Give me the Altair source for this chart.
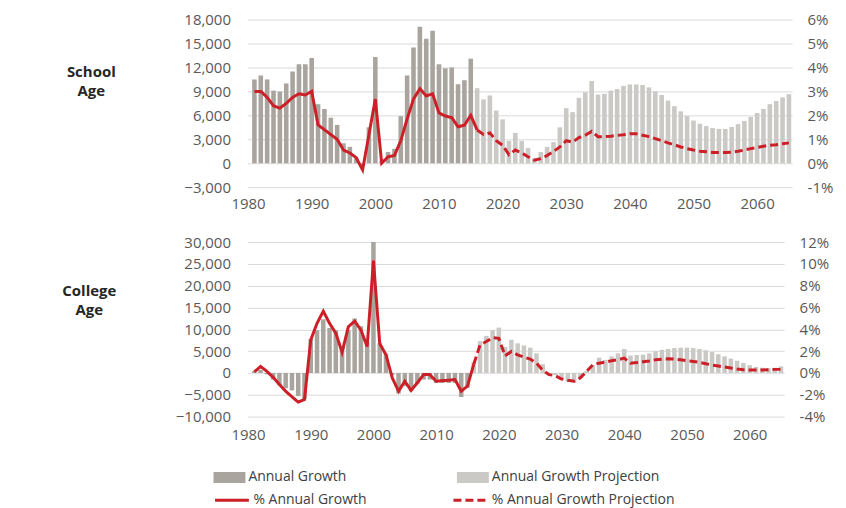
import altair as alt
import pandas as pd

YEARS = list(range(1981, 2066))
LAST_ACTUAL = 2015

SCHOOL_GROWTH = [
    10500, 11000, 10500, 9100, 9000, 10000, 11500, 12400, 12400, 13200,
    7400, 6800, 5700, 4800, 2500, 2050, 600, -200, 4500, 13300,
    300, 1400, 1800, 5900, 11000, 14500, 17100, 15600, 16600, 12400,
    11900, 12000, 9900, 10400, 13100, 9400, 8000, 8500, 6600, 5500,
    2800, 3800, 2800, 1900, 600, 1400, 2050, 2650, 4500, 6900,
    6400, 8200, 8900, 10300, 8600, 8700, 9100, 9300, 9700, 9870,
    9870, 9800, 9500, 9000, 8550, 7850, 7150, 6500, 5900, 5350,
    4950, 4650, 4400, 4300, 4300, 4550, 4900, 5300, 5800, 6300,
    6800, 7400, 7800, 8250, 8650]

SCHOOL_PCT = [
    3.0, 3.0, 2.75, 2.4, 2.3, 2.5, 2.75, 2.9, 2.85, 3.0,
    1.6, 1.4, 1.2, 1.0, 0.55, 0.43, 0.23, -0.28, 1.2, 2.68,
    0.0, 0.27, 0.32, 0.94, 1.85, 2.68, 3.11, 2.81, 2.9, 2.1,
    1.97, 1.91, 1.52, 1.59, 2.0, 1.39, 1.2, 1.27, 0.94, 0.75,
    0.36, 0.55, 0.43, 0.27, 0.13, 0.19, 0.32, 0.49, 0.68, 0.94,
    0.88, 1.07, 1.17, 1.33, 1.11, 1.11, 1.13, 1.16, 1.19, 1.23,
    1.23, 1.17, 1.11, 1.03, 0.94, 0.85, 0.77, 0.68, 0.61, 0.55,
    0.5, 0.48, 0.45, 0.45, 0.45, 0.46, 0.5, 0.55, 0.61, 0.66,
    0.71, 0.75, 0.77, 0.81, 0.85]

COLLEGE_GROWTH = [
    400, 700, -300, -1500, -2800, -3500, -4000, -5300, -6000, 7800,
    9800, 12300, 10300, 9800, 6000, 9800, 12500, 10700, 7000, 30000,
    6800, 4300, -500, -4700, -3000, -4200, -2500, -1500, -1500, -2300,
    -2300, -2300, -2300, -5500, -3400, 2500, 7300, 8500, 9800, 10400,
    6000, 7600, 6800, 6300, 5800, 4500, 2000, 0, -500, -1500,
    -2000, -2200, -1000, 500, 1800, 3500, 3000, 3800, 4500, 5500,
    4000, 4100, 4200, 4500, 5000, 5300, 5500, 5700, 5800, 5800,
    5700, 5500, 5200, 4800, 4300, 3800, 3300, 2800, 2300, 1800,
    1400, 1200, 1100, 1200, 1500]

COLLEGE_PCT = [
    0.1, 0.6, 0.15, -0.4, -1.06, -1.67, -2.18, -2.67, -2.43, 3.03,
    4.55, 5.66, 4.55, 3.64, 1.9, 4.24, 4.75, 3.94, 2.42, 10.3,
    2.7, 1.66, -0.45, -1.67, -0.76, -1.6, -0.9, -0.15, -0.15, -0.76,
    -0.7, -0.67, -0.6, -1.67, -1.2, 0.8, 2.57, 2.88, 3.24, 3.18,
    1.57, 1.97, 1.66, 1.45, 1.27, 0.9, 0.24, -0.15, -0.24, -0.55,
    -0.67, -0.76, -0.45, 0.15, 0.76, 0.9, 1.0, 1.12, 1.21, 1.36,
    0.9, 0.95, 1.03, 1.1, 1.21, 1.27, 1.3, 1.27, 1.21, 1.12,
    1.06, 0.97, 0.85, 0.73, 0.64, 0.55, 0.45, 0.36, 0.3, 0.27,
    0.27, 0.27, 0.3, 0.33, 0.33]

X_TICKS = list(range(1980, 2061, 10))
SCHOOL_TICKS = list(range(-3000, 18001, 3000))
SCHOOL_PCT_TICKS = list(range(-1, 7))
COLLEGE_TICKS = list(range(-10000, 30001, 5000))
COLLEGE_PCT_TICKS = list(range(-4, 13, 2))

BAR_LABELS = ["Annual Growth", "Annual Growth Projection"]
LINE_LABELS = ["% Annual Growth", "% Annual Growth Projection"]

DARK = "#a9a59e"
LIGHT = "#cbc9c6"
RED = "#cc1f27"
FONT = "Open Sans"


def frames(growth, pct):
    bars = pd.DataFrame({"year": YEARS, "growth": growth})
    bars["kind"] = [BAR_LABELS[0] if y <= LAST_ACTUAL else BAR_LABELS[1] for y in YEARS]
    rows = []
    for y, p in zip(YEARS, pct):
        if y <= LAST_ACTUAL + 1:
            rows.append({"year": y, "pct": p, "kind": LINE_LABELS[0]})
        if y >= LAST_ACTUAL + 1:
            rows.append({"year": y, "pct": p, "kind": LINE_LABELS[1]})
    return bars, pd.DataFrame(rows)


bar_legend = alt.Legend(
    title=None, orient="none", legendX=-34, legendY=443, direction="horizontal",
    symbolType="M-1,-0.34H1V0.34H-1Z", symbolSize=1024, symbolStrokeWidth=0,
    columnPadding=110, labelFontSize=14, labelColor="#404040", labelOffset=3,
    labelLimit=400,
)
line_legend = alt.Legend(
    title=None, orient="none", legendX=-34, legendY=463, direction="horizontal",
    symbolType="stroke", symbolSize=1150, symbolStrokeWidth=3, symbolStrokeColor=RED,
    columnPadding=80, labelFontSize=14, labelColor="#404040", labelOffset=3,
    labelLimit=400,
)


def x_axis(pad):
    return alt.Axis(values=X_TICKS, format="d", grid=False, domain=False,
                    ticks=False, labelPadding=pad, labelFlush=False, title=None)


def panel(growth, pct, title, gdom, gticks, pdom, pticks, width, height, title_x, title_y,
          xpad):
    bdf, ldf = frames(growth, pct)
    xscale = alt.Scale(domain=[1979.9, 2065.5], nice=False, zero=False)
    bars = alt.Chart(bdf).transform_calculate(
        x0="datum.year - 0.36", x1="datum.year + 0.36"
    ).mark_bar().encode(
        x=alt.X("x0:Q", scale=xscale, axis=x_axis(xpad)),
        x2="x1:Q",
        y=alt.Y("growth:Q", scale=alt.Scale(domain=gdom, nice=False, zero=False),
                axis=alt.Axis(values=gticks, format=",.0f", grid=True, domain=False,
                              ticks=False, labelPadding=17, title=title, titleAngle=0,
                              titleAlign="center", titleBaseline="middle",
                              titleX=title_x, titleY=title_y, titleFontWeight="bold",
                              titleFontSize=15, titleColor="#262626", titleLineHeight=19)),
        y2=alt.datum(0),
        color=alt.Color("kind:N", scale=alt.Scale(domain=BAR_LABELS, range=[DARK, LIGHT]),
                        legend=bar_legend),
    )
    lines = alt.Chart(ldf).mark_line(color=RED, strokeWidth=3).encode(
        x=alt.X("year:Q", scale=xscale, axis=x_axis(xpad)),
        y=alt.Y("pct:Q", scale=alt.Scale(domain=pdom, nice=False, zero=False),
                axis=alt.Axis(orient="right", values=pticks, labelExpr="datum.value + '%'",
                              grid=False, domain=False, ticks=False, labelPadding=15,
                              title=None)),
        strokeDash=alt.StrokeDash("kind:N",
                                  scale=alt.Scale(domain=LINE_LABELS, range=[[1, 0], [8, 4]]),
                                  legend=line_legend),
    )
    return alt.layer(bars, lines).resolve_scale(y="independent").properties(
        width=width, height=height)


top = panel(SCHOOL_GROWTH, SCHOOL_PCT, ["School", "Age"], [-3000, 18000], SCHOOL_TICKS,
            [-1, 6], SCHOOL_PCT_TICKS, 546, 168, -157, 52, 9)
bottom = panel(COLLEGE_GROWTH, COLLEGE_PCT, ["College", "Age"], [-10000, 30000], COLLEGE_TICKS,
               [-4, 12], COLLEGE_PCT_TICKS, 538, 175, -159, 49, 11)

chart = alt.vconcat(top, bottom, spacing=55, bounds="flush").resolve_scale(
    x="independent", y="independent", color="shared", strokeDash="shared"
).properties(
    padding={"left": 53, "top": 4, "right": 5, "bottom": 0}
).configure(font=FONT).configure_axis(
    labelFontSize=15, labelColor="#595959", gridColor="#d9d9d9", gridWidth=1
).configure_view(stroke=None)

chart.save("out.html", embed_options={"renderer": "svg", "actions": False})
